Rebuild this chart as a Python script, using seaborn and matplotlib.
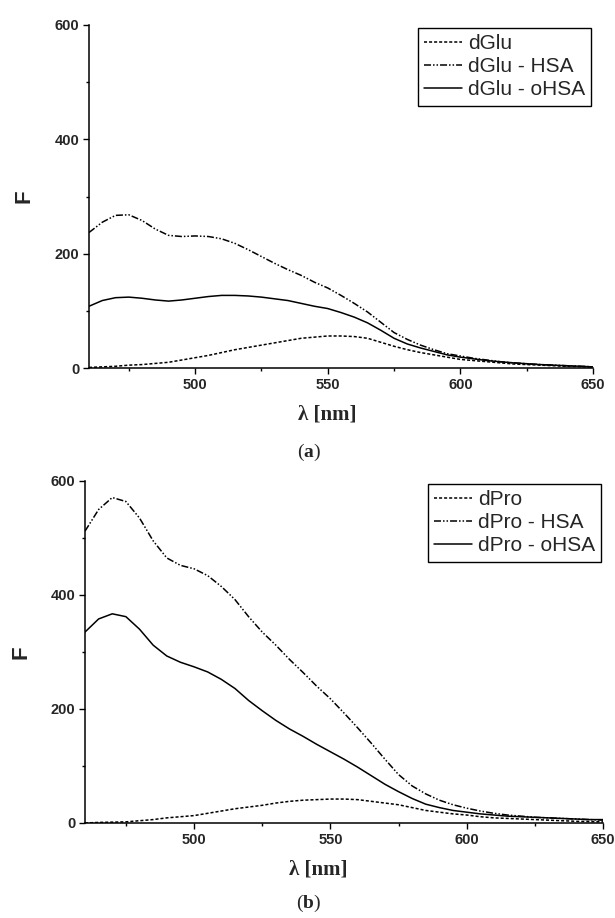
import os
import numpy as np
import pandas as pd
import matplotlib
matplotlib.use("Agg")
import matplotlib.pyplot as plt
from matplotlib.ticker import MultipleLocator
from matplotlib import font_manager as fm
import seaborn as sns

# ---------------- data ----------------
wavelength = [460, 465, 470, 475, 480, 485, 490, 495, 500, 505, 510, 515, 520,
              525, 530, 535, 540, 545, 550, 555, 560, 565, 570, 575, 580, 585,
              590, 595, 600, 605, 610, 615, 620, 625, 630, 635, 640, 645, 650]

dGlu = [1, 2, 3, 5, 6, 8, 10, 14, 18, 22, 27, 32, 36, 40, 44, 48, 52, 54, 56, 56,
        55, 52, 45, 38, 32, 27, 23, 19, 15, 13, 11, 9, 7, 6, 5, 4, 3, 2.5, 2]
dGlu_HSA = [237, 255, 267, 268, 258, 243, 232, 230, 231, 230, 226, 218, 207, 195,
            183, 172, 162, 150, 140, 127, 113, 98, 80, 62, 50, 40, 32, 25, 21, 17,
            14, 11, 9, 7.5, 6, 5, 4, 3, 2]
dGlu_oHSA = [108, 118, 123, 124, 122, 119, 117, 119, 122, 125, 127, 127, 126, 124,
             121, 118, 113, 108, 104, 97, 89, 79, 66, 52, 42, 35, 29, 23, 19, 16,
             13, 11, 9, 7.5, 6, 5, 4, 3, 2]

dPro = [0, 1, 1.5, 2, 4, 6, 9, 11, 13, 17, 21, 25, 28, 31, 35, 38, 40, 41, 42, 42,
        41, 38, 35, 32, 27, 22, 19, 16, 14, 11, 9, 8, 7, 6, 5, 4, 3, 2.5, 2]
dPro_HSA = [512, 550, 571, 564, 535, 495, 465, 452, 446, 434, 415, 392, 362, 335,
            312, 287, 264, 240, 218, 193, 167, 140, 112, 85, 65, 51, 40, 32, 26,
            21, 17, 14, 12, 10, 9, 8, 7, 6, 5]
dPro_oHSA = [335, 358, 367, 362, 340, 312, 293, 282, 274, 265, 252, 236, 215, 197,
             180, 165, 152, 138, 125, 112, 98, 83, 68, 55, 43, 33, 27, 22, 19, 16,
             14, 12, 11, 10, 9, 8, 7, 6, 6]

labels_a = ["dGlu", "dGlu - HSA", "dGlu - oHSA"]
labels_b = ["dPro", "dPro - HSA", "dPro - oHSA"]
x_ticks = [500, 550, 600, 650]
y_ticks = [0, 200, 400, 600]

# ---------------- style ----------------
sns.set_style("ticks")
plt.rcParams["font.family"] = ["Liberation Sans", "DejaVu Sans"]
plt.rcParams["mathtext.fontset"] = "custom"
plt.rcParams["mathtext.rm"] = "Liberation Serif"
plt.rcParams["mathtext.bf"] = "Liberation Serif:bold"


def find_font(name):
    for f in fm.findSystemFonts():
        if os.path.basename(f).lower() == name.lower():
            return f
    return None


bold_path = find_font("LiberationSans-Bold.ttf")


def bold_props(size):
    if bold_path:
        return fm.FontProperties(fname=bold_path, size=size)
    return fm.FontProperties(family="DejaVu Sans", weight="bold", size=size)


LW = 1.1
styles = [(0, (2.0, 1.3)),
          (0, (4.6, 1.3, 1.0, 1.3, 1.0, 1.3)),
          "-"]

fig = plt.figure(figsize=(6.15, 9.18), dpi=100)
ax_a = fig.add_axes([89 / 615, 1 - 368 / 918, 504 / 615, 343 / 918])
ax_b = fig.add_axes([85 / 615, 1 - 823 / 918, 518 / 615, 342 / 918])


def draw(ax, series, labels, label_x, f_x):
    df = pd.DataFrame({"wl": wavelength})
    for vals, lab, ls in zip(series, labels, styles):
        df[lab] = vals
        sns.lineplot(data=df, x="wl", y=lab, ax=ax, color="black", lw=LW,
                     linestyle=ls, label=lab, solid_joinstyle="round")
    ax.set_xlim(460, 650)
    ax.set_ylim(0, 600)
    ax.set_xticks(x_ticks)
    ax.set_yticks(y_ticks)
    ax.xaxis.set_minor_locator(MultipleLocator(25))
    ax.yaxis.set_minor_locator(MultipleLocator(100))
    ax.tick_params(which="major", direction="out", length=4, width=1.0,
                   pad=3, color="black")
    ax.tick_params(which="minor", direction="out", length=2.5, width=1.0,
                   color="black")
    for t in ax.get_xticklabels() + ax.get_yticklabels():
        t.set_fontproperties(bold_props(10.5))
    for s in ["top", "right"]:
        ax.spines[s].set_visible(False)
    for s in ["left", "bottom"]:
        ax.spines[s].set_linewidth(1.1)
        ax.spines[s].set_color("black")
    ax.set_ylabel("F", fontproperties=bold_props(16))
    ax.yaxis.set_label_coords(f_x, 0.5)
    ax.set_xlabel("λ [nm]", fontsize=15, fontweight="bold",
                  family="Liberation Serif")
    ax.xaxis.label.set_va("center")
    ax.xaxis.set_label_coords(label_x, -47 / 343)
    leg = ax.legend(loc="upper right", bbox_to_anchor=(0.997, 0.992),
                    fontsize=15, frameon=True, fancybox=False, framealpha=1,
                    edgecolor="black", handlelength=1.8, handletextpad=0.3,
                    labelspacing=0.2, borderpad=0.3, borderaxespad=0)
    leg.get_frame().set_linewidth(1.0)


draw(ax_a, [dGlu, dGlu_HSA, dGlu_oHSA], labels_a, (327 - 89) / 504,
     (34 - 89) / 504)
draw(ax_b, [dPro, dPro_HSA, dPro_oHSA], labels_b, (318 - 85) / 518,
     (31 - 85) / 518)

fig.text(309 / 615, 1 - 452 / 918, r"($\mathbf{a}$)", ha="center", va="center",
         fontsize=14, family="Liberation Serif")
fig.text(309 / 615, 1 - 903 / 918, r"($\mathbf{b}$)", ha="center", va="center",
         fontsize=14, family="Liberation Serif")

fig.savefig("out.png", dpi=100)
